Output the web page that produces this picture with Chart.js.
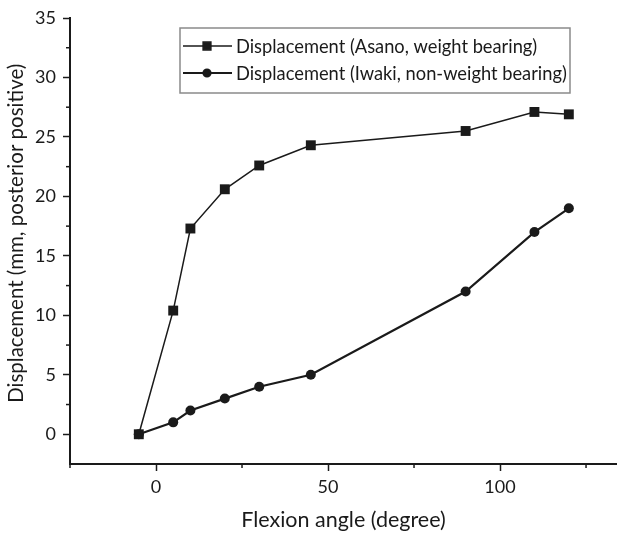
<!DOCTYPE html>
<html>
<head>
<meta charset="utf-8">
<script src="https://cdn.jsdelivr.net/npm/chart.js@4"></script>
<style>
    body { margin: 0; background: #fff; }
    #wrap { width: 617px; height: 537px; }
</style>
</head>
<body>
<div id="wrap"><canvas id="chart" width="617" height="537"></canvas></div>
<script>
// Flexion angle (degree)
const angles = [-5, 5, 10, 20, 30, 45, 90, 110, 120];
// Displacement (mm)
const asanoValues = [0, 10.4, 17.3, 20.6, 22.6, 24.3, 25.5, 27.1, 26.9];
const iwakiValues = [0, 1, 2, 3, 4, 5, 12, 17, 19];

const seriesLabels = [
    'Displacement (Asano, weight bearing)',
    'Displacement (Iwaki, non-weight bearing)'
];

const xMajorTicks = [0, 50, 100];
const xMinorTicks = [-25, 25, 75, 125];
const yMajorTicks = [0, 5, 10, 15, 20, 25, 30, 35];
const yMinorTicks = [2.5, 7.5, 12.5, 17.5, 22.5, 27.5, 32.5];

const FONT = 'Lato, "Open Sans", sans-serif';
const INK = '#1a1a1a';

function toPoints(xs, ys) {
    return xs.map((x, i) => ({ x: x, y: ys[i] }));
}

// short outward ticks halfway between the labelled ones
const minorTicks = {
    id: 'minorTicks',
    afterDraw(chart) {
        const ctx = chart.ctx;
        const xs = chart.scales.x;
        const ys = chart.scales.y;
        ctx.save();
        ctx.strokeStyle = INK;
        ctx.lineWidth = 1.5;
        xMinorTicks.forEach(v => {
            const px = xs.getPixelForValue(v);
            ctx.beginPath();
            ctx.moveTo(px, xs.top);
            ctx.lineTo(px, xs.top + 4);
            ctx.stroke();
        });
        yMinorTicks.forEach(v => {
            const py = ys.getPixelForValue(v);
            ctx.beginPath();
            ctx.moveTo(ys.right, py);
            ctx.lineTo(ys.right - 4, py);
            ctx.stroke();
        });
        ctx.restore();
    }
};

// boxed legend inside the plot, like the original
const boxLegend = {
    id: 'boxLegend',
    afterDraw(chart) {
        const ctx = chart.ctx;
        const left = 180, top = 28, width = 390, height = 65;
        ctx.save();
        ctx.fillStyle = '#fff';
        ctx.fillRect(left, top, width, height);
        ctx.strokeStyle = '#8a8a8a';
        ctx.lineWidth = 1.5;
        ctx.strokeRect(left, top, width, height);

        chart.data.datasets.forEach((ds, i) => {
            const cy = top + 18 + i * 27;
            ctx.strokeStyle = INK;
            ctx.fillStyle = INK;
            ctx.lineWidth = ds.borderWidth;
            ctx.beginPath();
            ctx.moveTo(left + 3, cy);
            ctx.lineTo(left + 52, cy);
            ctx.stroke();
            Chart.helpers.drawPoint(ctx, {
                pointStyle: ds.pointStyle,
                radius: ds.pointRadius - 1.5,
                borderWidth: 1
            }, left + 27, cy);
            ctx.font = '18.3px ' + FONT;
            ctx.textBaseline = 'middle';
            ctx.textAlign = 'left';
            ctx.fillText(ds.label, left + 56, cy + 1);
        });
        ctx.restore();
    }
};

const ctx = document.getElementById('chart').getContext('2d');
new Chart(ctx, {
    type: 'line',
    data: {
        datasets: [
            {
                label: seriesLabels[0],
                data: toPoints(angles, asanoValues),
                borderColor: INK,
                backgroundColor: INK,
                borderWidth: 1.5,
                pointStyle: 'rect',
                pointRadius: 7,
                pointBorderWidth: 0,
                tension: 0
            },
            {
                label: seriesLabels[1],
                data: toPoints(angles, iwakiValues),
                borderColor: INK,
                backgroundColor: INK,
                borderWidth: 2.2,
                pointStyle: 'circle',
                pointRadius: 5,
                pointBorderWidth: 0,
                tension: 0
            }
        ]
    },
    options: {
        responsive: false,
        animation: false,
        layout: { autoPadding: false, padding: { top: 18, left: 0, right: 0, bottom: 0 } },
        plugins: {
            legend: { display: false },
            tooltip: { enabled: false }
        },
        scales: {
            x: {
                type: 'linear',
                min: -25,
                max: 134,
                afterBuildTicks: scale => {
                    scale.ticks = xMajorTicks.map(v => ({ value: v }));
                },
                afterFit: scale => { scale.height = 73; },
                grid: {
                    drawOnChartArea: false,
                    drawTicks: true,
                    tickLength: 7,
                    tickWidth: 1.5,
                    tickColor: INK
                },
                border: { display: true, color: INK, width: 2 },
                ticks: {
                    color: INK,
                    padding: 5,
                    maxRotation: 0,
                    font: { family: FONT, size: 18 }
                },
                title: {
                    display: true,
                    text: 'Flexion angle (degree)',
                    color: INK,
                    padding: { top: 7 },
                    font: { family: FONT, size: 21.5 }
                }
            },
            y: {
                type: 'linear',
                min: -2.5,
                max: 35,
                afterBuildTicks: scale => {
                    scale.ticks = yMajorTicks.map(v => ({ value: v }));
                },
                afterFit: scale => { scale.width = 70; },
                grid: {
                    drawOnChartArea: false,
                    drawTicks: true,
                    tickLength: 7,
                    tickWidth: 1.5,
                    tickColor: INK
                },
                border: { display: true, color: INK, width: 2 },
                ticks: {
                    color: INK,
                    padding: 7,
                    font: { family: FONT, size: 18 }
                },
                title: {
                    display: true,
                    // leading em space nudges the title a little above centre, as in the original
                    text: '\u2003Displacement (mm, posterior positive)',
                    color: INK,
                    padding: { bottom: 3 },
                    font: { family: FONT, size: 20.5 }
                }
            }
        }
    },
    plugins: [minorTicks, boxLegend]
});
</script>
</body>
</html>
